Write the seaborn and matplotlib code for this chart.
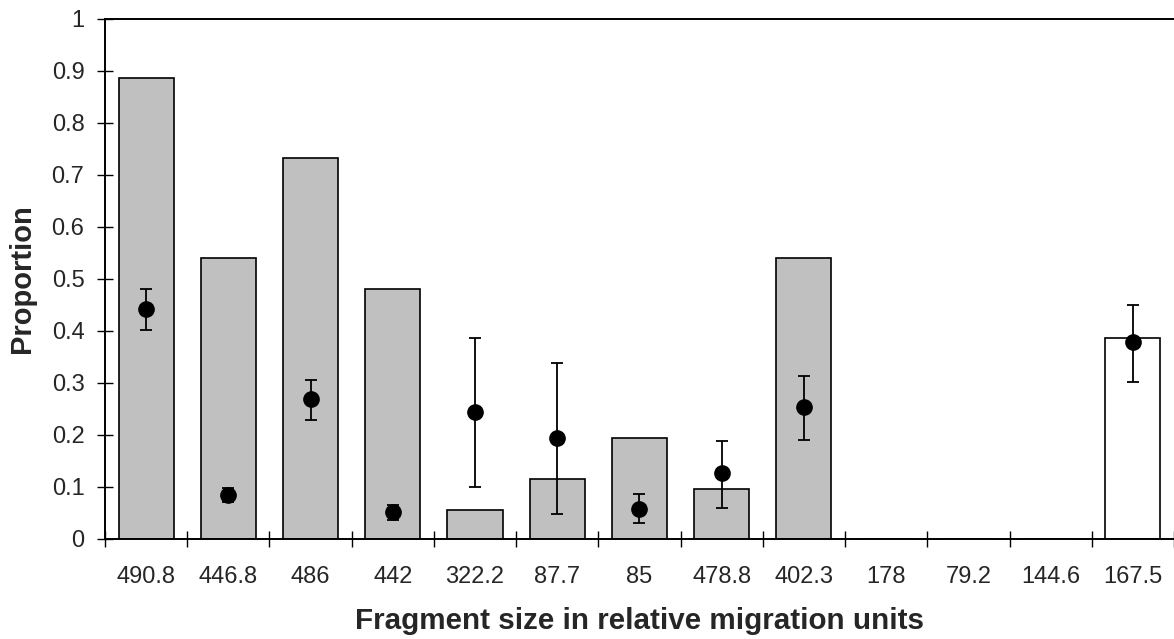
import matplotlib
matplotlib.use("Agg")
import matplotlib.pyplot as plt
import numpy as np
import seaborn as sns
import pandas as pd

# fragment sizes (categories, in plot order)
fragments = ["490.8", "446.8", "486", "442", "322.2", "87.7", "85",
             "478.8", "402.3", "178", "79.2", "144.6", "167.5"]
# bar heights
bar_prop = [0.885, 0.539, 0.731, 0.480, 0.056, 0.115, 0.193,
            0.095, 0.539, 0.0, 0.0, 0.0, 0.385]
bar_colors = ["#c0c0c0"] * 12 + ["#ffffff"]
# point estimates with error bar limits
point_prop = [0.442, 0.084, 0.268, 0.052, 0.244, 0.194, 0.057,
              0.126, 0.253, np.nan, np.nan, np.nan, 0.378]
point_low = [0.402, 0.071, 0.228, 0.036, 0.100, 0.047, 0.030,
             0.059, 0.190, np.nan, np.nan, np.nan, 0.302]
point_high = [0.480, 0.097, 0.305, 0.065, 0.385, 0.338, 0.086,
              0.187, 0.313, np.nan, np.nan, np.nan, 0.449]

df = pd.DataFrame({"fragment": fragments, "prop": bar_prop})

sns.set_style("white")
plt.rcParams["font.family"] = ["Liberation Sans", "DejaVu Sans"]

fig = plt.figure(figsize=(11.74, 6.39), dpi=100)
ax = fig.add_axes([0.0894, 0.157, 0.9106, 0.814])

sns.barplot(data=df, x="fragment", y="prop", hue="fragment", order=fragments,
            palette=dict(zip(fragments, bar_colors)), legend=False,
            edgecolor="black", linewidth=1.2, width=0.67, saturation=1, ax=ax)

pos = np.arange(len(fragments))
mean = np.array(point_prop)
yerr = np.vstack([mean - np.array(point_low), np.array(point_high) - mean])
ax.errorbar(pos, mean, yerr=yerr, fmt="o", color="black", markersize=11,
            ecolor="black", elinewidth=1.3, capsize=4.5, capthick=1.3, zorder=5)

ax.set_xlim(-0.5, len(fragments) - 0.5)
ax.set_ylim(0, 1)
ax.set_yticks(np.arange(0, 1.01, 0.1))
ax.set_yticklabels(["0", "0.1", "0.2", "0.3", "0.4", "0.5", "0.6", "0.7",
                    "0.8", "0.9", "1"])

# category labels centred, tick marks on the boundaries
ax.set_xticks(pos)
ax.set_xticks(np.arange(-0.5, len(fragments), 1.0), minor=True)
ax.tick_params(axis="x", which="major", length=0, pad=20, labelsize=17)
ax.tick_params(axis="x", which="minor", direction="inout", length=11.5,
               width=1.0, color="black", bottom=True)
ax.tick_params(axis="y", direction="inout", length=11.5, width=1.0,
               color="black", left=True, pad=9, labelsize=17)

for side in ["left", "bottom", "top"]:
    ax.spines[side].set_visible(True)
    ax.spines[side].set_color("black")
    ax.spines[side].set_linewidth(1.4)
ax.spines["right"].set_visible(False)

ax.set_xlabel("Fragment size in relative migration units", fontsize=21.3,
              fontweight="bold", labelpad=13)
ax.set_ylabel("Proportion", fontsize=21, fontweight="bold", labelpad=11)

fig.savefig("out.png", dpi=100)
